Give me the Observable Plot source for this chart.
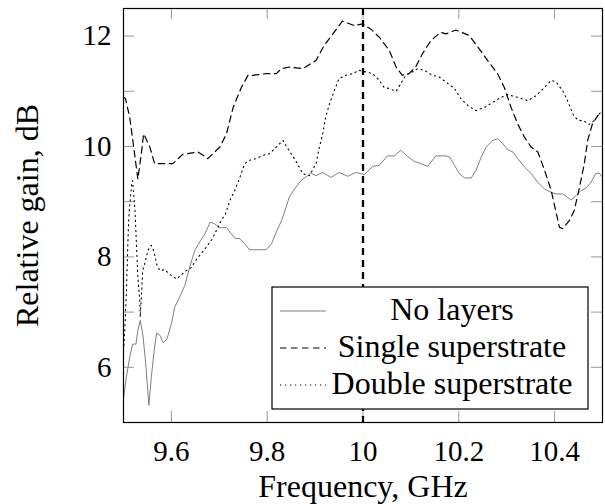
<!DOCTYPE html>
<html><head><meta charset="utf-8">
<script src="https://cdn.jsdelivr.net/npm/d3@7"></script>
<script src="https://cdn.jsdelivr.net/npm/@observablehq/plot@0.6"></script>
<style>html,body{margin:0;padding:0;background:#fff}#chart{width:605px;height:504px}</style>
</head><body><div id="chart"></div>
<script>
const seriesNames = ["No layers", "Single superstrate", "Double superstrate"];
const xTicks = [9.6, 9.8, 10, 10.2, 10.4];
const yTicks = [5, 6, 7, 8, 9, 10, 11, 12];
const yLabelTicks = [6, 8, 10, 12];
const markerFreq = [10];
const xTitle = "Frequency, GHz";
const yTitle = "Relative gain, dB";

const noLayersFreq = [9.500,9.506,9.513,9.519,9.526,9.530,9.535,9.541,9.547,9.553,9.558,9.564,9.569,9.576,9.583,9.591,9.600,9.607,9.617,9.628,9.638,9.649,9.659,9.670,9.681,9.690,9.701,9.715,9.725,9.732,9.743,9.753,9.763,9.777,9.798,9.809,9.819,9.830,9.836,9.846,9.857,9.870,9.884,9.891,9.902,9.916,9.933,9.950,9.968,9.985,10.003,10.020,10.034,10.051,10.065,10.079,10.093,10.107,10.121,10.135,10.152,10.173,10.181,10.191,10.201,10.212,10.226,10.236,10.247,10.257,10.271,10.281,10.292,10.302,10.313,10.323,10.337,10.351,10.365,10.379,10.393,10.403,10.417,10.427,10.434,10.445,10.455,10.466,10.476,10.486,10.493,10.500];
const noLayersGain = [5.43,5.82,6.18,6.42,6.42,6.67,6.85,6.55,6.00,5.31,5.82,6.30,6.62,6.58,6.44,6.52,6.79,7.09,7.27,7.48,7.81,8.12,8.27,8.42,8.63,8.60,8.53,8.53,8.42,8.34,8.33,8.24,8.13,8.13,8.13,8.24,8.45,8.66,8.81,9.08,9.23,9.38,9.47,9.52,9.47,9.53,9.44,9.53,9.46,9.53,9.49,9.64,9.66,9.83,9.83,9.93,9.82,9.73,9.69,9.64,9.83,9.83,9.81,9.66,9.51,9.43,9.43,9.57,9.81,9.99,10.11,10.14,10.05,9.94,9.90,9.78,9.63,9.51,9.35,9.23,9.17,9.14,9.14,9.08,9.03,9.11,9.20,9.25,9.35,9.51,9.52,9.44];

const singleFreq = [9.500,9.504,9.513,9.524,9.530,9.538,9.542,9.555,9.565,9.583,9.603,9.624,9.656,9.676,9.701,9.715,9.729,9.746,9.760,9.770,9.798,9.819,9.830,9.846,9.874,9.902,9.919,9.937,9.957,9.982,9.999,10.016,10.034,10.055,10.069,10.082,10.096,10.110,10.124,10.142,10.162,10.173,10.194,10.222,10.240,10.260,10.281,10.295,10.309,10.323,10.337,10.351,10.365,10.379,10.393,10.403,10.410,10.417,10.431,10.441,10.452,10.462,10.469,10.479,10.490,10.500];
const singleGain = [10.89,10.87,10.53,9.81,9.41,9.93,10.23,9.99,9.69,9.69,9.69,9.86,9.90,9.78,9.99,10.23,10.71,11.07,11.29,11.29,11.32,11.32,11.41,11.44,11.41,11.56,11.83,12.04,12.27,12.19,12.22,12.13,11.98,11.74,11.44,11.29,11.32,11.44,11.68,11.92,12.07,12.04,12.11,12.01,11.80,11.56,11.32,11.07,10.71,10.41,10.17,9.99,9.90,9.57,9.20,8.81,8.54,8.51,8.66,8.84,9.26,9.69,10.11,10.41,10.56,10.62];

const doubleFreq = [9.500,9.503,9.506,9.508,9.510,9.512,9.517,9.519,9.524,9.527,9.530,9.534,9.535,9.538,9.540,9.544,9.551,9.558,9.564,9.569,9.576,9.586,9.597,9.611,9.621,9.631,9.642,9.652,9.663,9.673,9.684,9.694,9.704,9.713,9.722,9.732,9.743,9.753,9.763,9.777,9.791,9.805,9.819,9.833,9.839,9.850,9.863,9.874,9.888,9.902,9.909,9.916,9.922,9.930,9.940,9.950,9.964,9.978,9.992,10.006,10.020,10.034,10.044,10.055,10.069,10.079,10.089,10.103,10.114,10.128,10.145,10.159,10.173,10.191,10.205,10.219,10.236,10.254,10.271,10.288,10.302,10.323,10.344,10.361,10.379,10.393,10.403,10.417,10.427,10.438,10.448,10.462,10.472,10.483,10.493,10.500];
const doubleGain = [6.30,6.73,7.33,7.93,8.48,8.84,9.32,9.38,8.84,8.24,7.63,7.21,6.91,7.39,7.75,7.87,8.12,8.21,8.09,7.87,7.75,7.77,7.68,7.60,7.68,7.75,7.81,7.95,8.07,8.18,8.31,8.48,8.66,8.78,9.02,9.20,9.44,9.69,9.75,9.78,9.84,9.87,9.99,10.11,10.02,9.87,9.69,9.51,9.47,9.69,9.99,10.23,10.53,10.77,11.01,11.23,11.29,11.32,11.38,11.35,11.32,11.20,11.07,11.05,11.00,11.14,11.29,11.35,11.41,11.38,11.29,11.26,11.17,11.05,10.86,10.74,10.65,10.71,10.80,10.89,10.94,10.89,10.83,10.92,11.07,11.20,11.17,11.01,10.83,10.59,10.48,10.46,10.40,10.47,10.59,10.65];

const zip = (fs, gs) => fs.map((f, i) => ({f, g: gs[i]}));
const noLayers = zip(noLayersFreq, noLayersGain);
const single = zip(singleFreq, singleGain);
const double = zip(doubleFreq, doubleGain);

const styles = [
  {stroke: "#808080", strokeWidth: 1, strokeDasharray: null},
  {stroke: "black", strokeWidth: 1.2, strokeDasharray: "6.5,4.5"},
  {stroke: "black", strokeWidth: 1.1, strokeDasharray: "1.2,3.8"}
];

const font = "'Liberation Serif', 'Times New Roman', serif";
const tickGray = "#999";
const W = 605, H = 504, mL = 123, mR = 3, mT = 8, mB = 82;
const innerW = W - mL - mR, innerH = H - mT - mB, tickLen = 11;

const plot = Plot.plot({
  width: W, height: H,
  marginLeft: mL, marginRight: mR, marginTop: mT, marginBottom: mB,
  style: {fontFamily: font, fontSize: "29px", color: "black", background: "white", overflow: "visible"},
  x: {domain: [9.5, 10.5]},
  y: {domain: [5, 12.5]},
  marks: [
    Plot.axisX(xTicks, {anchor: "bottom", tickSize: 0, tickPadding: 18, tickFormat: d => String(d), label: null, fontSize: 29}),
    Plot.axisY(yLabelTicks, {anchor: "left", tickSize: 0, tickPadding: 12, tickFormat: d => String(d), label: null, fontSize: 29}),
    // inward ticks on all four sides
    Plot.tickX(xTicks, {x: d => d, stroke: tickGray, insetTop: innerH - tickLen}),
    Plot.tickX(xTicks, {x: d => d, stroke: tickGray, insetBottom: innerH - tickLen}),
    Plot.tickY(yTicks, {y: d => d, stroke: tickGray, insetRight: innerW - tickLen}),
    Plot.tickY(yTicks, {y: d => d, stroke: tickGray, insetLeft: innerW - tickLen}),
    Plot.line(noLayers, {x: "f", y: "g", ...styles[0]}),
    Plot.line(single, {x: "f", y: "g", ...styles[1]}),
    Plot.line(double, {x: "f", y: "g", ...styles[2]}),
    Plot.ruleX(markerFreq, {stroke: "black", strokeWidth: 2.3, strokeDasharray: "7,5"}),
    Plot.frame({stroke: "black", strokeWidth: 1.2}),
    Plot.text([xTitle], {text: d => d, frameAnchor: "bottom", dy: 74, lineAnchor: "bottom", textAnchor: "middle", fontSize: 32, fill: "black"}),
    Plot.text([yTitle], {text: d => d, frameAnchor: "left", dx: -86, rotate: -90, lineAnchor: "bottom", textAnchor: "middle", fontSize: 32, fill: "black"})
  ]
});
document.getElementById("chart").appendChild(plot);

// Legend inside the plot area (bottom right)
const svg = d3.select(plot);
const lg = svg.append("g").attr("font-family", font).attr("font-size", 32);
lg.append("rect").attr("x", 272).attr("y", 287).attr("width", 316).attr("height", 122)
  .attr("fill", "white").attr("stroke", "black").attr("stroke-width", 1.2);
seriesNames.forEach((name, i) => {
  const yMid = 311 + i * 37;
  const s = styles[i];
  lg.append("line").attr("x1", 280).attr("x2", 326).attr("y1", yMid).attr("y2", yMid)
    .attr("stroke", s.stroke).attr("stroke-width", s.strokeWidth)
    .attr("stroke-dasharray", s.strokeDasharray);
  lg.append("text").attr("x", 452).attr("y", yMid + 9).attr("text-anchor", "middle")
    .attr("fill", "black").text(name);
});
</script>
</body></html>
